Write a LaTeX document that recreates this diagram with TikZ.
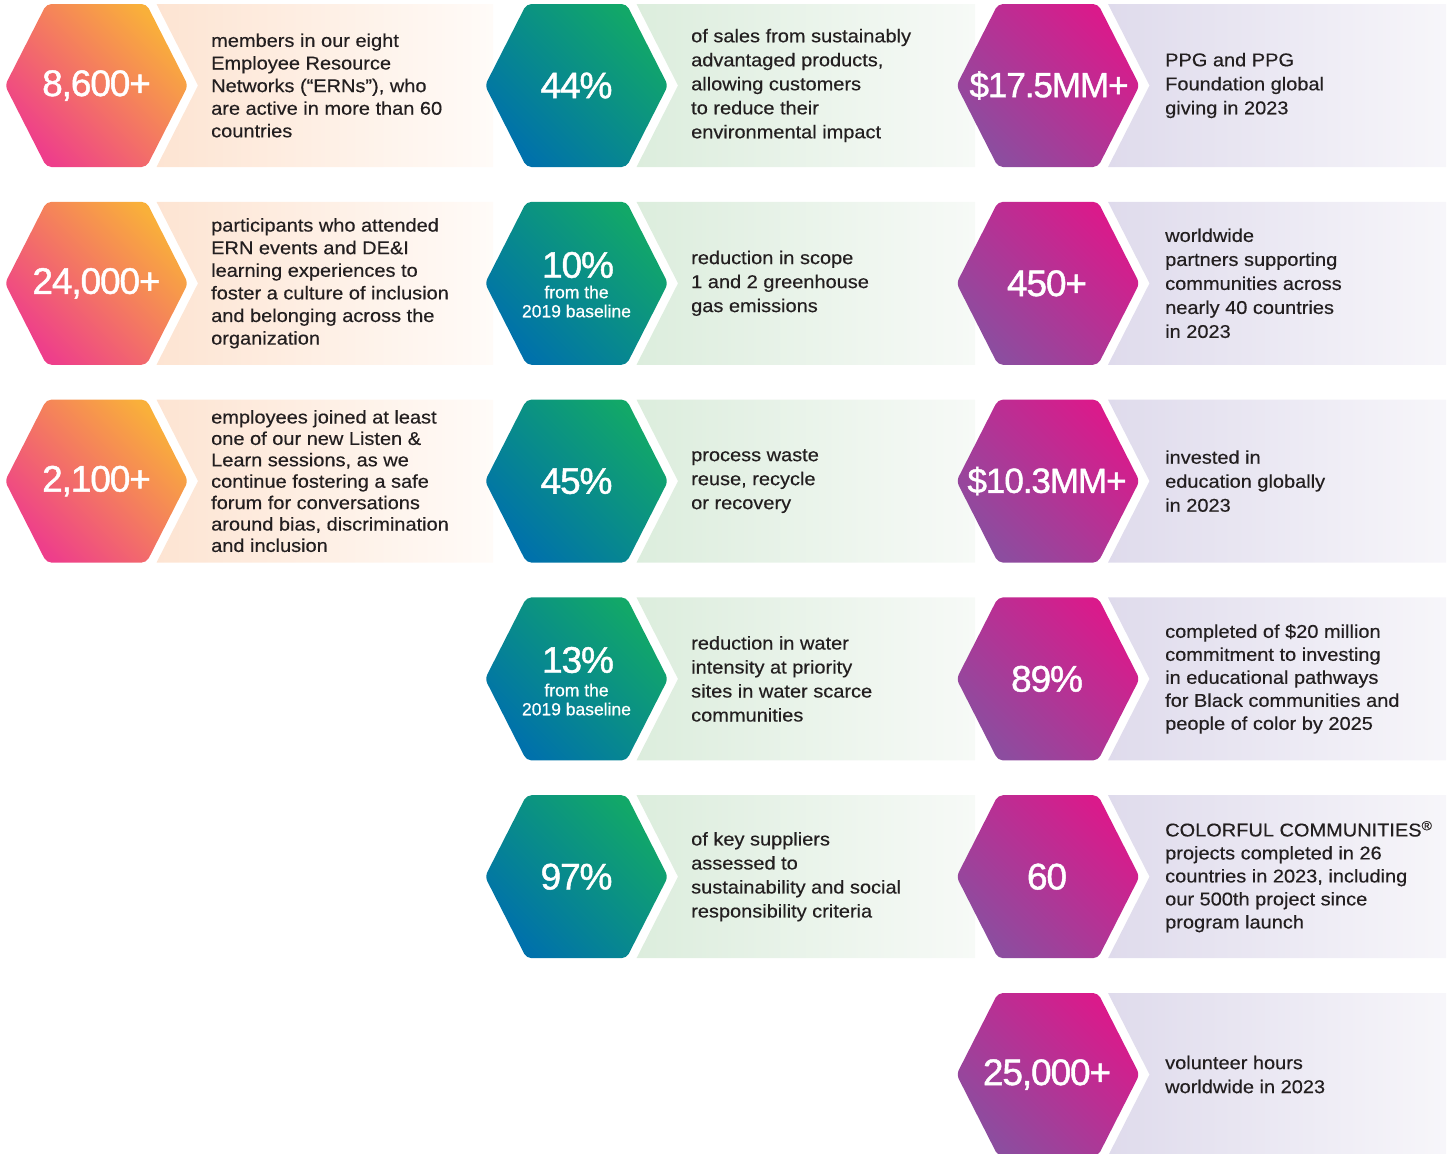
\documentclass[tikz,border=0pt]{standalone}
\usepackage{fontspec}
\setmainfont{Liberation Sans}[FakeStretch=1.08,FakeBold=0.4]
\newfontfamily\numf{Liberation Sans}[FakeBold=1.2,LetterSpace=-3]
\newfontfamily\subf{Liberation Sans}[FakeBold=0.6]
\definecolor{orT}{HTML}{F9B03A}
\definecolor{orB}{HTML}{EE3E8B}
\definecolor{grT}{HTML}{12A868}
\definecolor{grB}{HTML}{0071AB}
\definecolor{mgT}{HTML}{DA1A8B}
\definecolor{mgB}{HTML}{8C4D9F}
\definecolor{pL}{HTML}{FDE4D2}
\definecolor{pR}{HTML}{FFFBF8}
\definecolor{gL}{HTML}{DCEDDD}
\definecolor{gR}{HTML}{F7FAF7}
\definecolor{lL}{HTML}{DFDBEC}
\definecolor{lR}{HTML}{F7F6FA}
\definecolor{txt}{HTML}{231F20}
\tikzset{
  hexA/.style={top color=orT, bottom color=orB, shading angle=-45},
  hexB/.style={top color=grT, bottom color=grB, shading angle=-45},
  hexC/.style={top color=mgT, bottom color=mgB, shading angle=-45},
  panA/.style={left color=pL, right color=pR},
  panB/.style={left color=gL, right color=gR},
  panC/.style={left color=lL, right color=lR},
  bignum/.style={text=white, inner sep=0pt, font=\numf\fontsize{37}{40}\selectfont},
  subnum/.style={text=white, inner sep=0pt, font=\subf\fontsize{17.5}{19}\selectfont},
  desc/.style={text=txt, inner sep=0pt, anchor=west, align=left, font=\fontsize{18.5}{24}\selectfont},
  descA/.style={desc, font=\fontsize{18.5}{22.6}\selectfont},
}
\newcommand\hexpanel[5]{%
  \path[#5] ({#1+60},{#2-81.5}) -- (#3,{#2-81.5}) -- (#3,{#2+81.5}) -- ({#1+60},{#2+81.5}) -- ({#1+101.5},#2) -- cycle;
  \path[#4,rounded corners=5] (#1,{#2-81.5}) -- ({#1+50},{#2-81.5}) -- ({#1+91.5},#2) -- ({#1+50},{#2+81.5}) -- ({#1-50},{#2+81.5}) -- ({#1-91.5},#2) -- ({#1-50},{#2-81.5}) -- cycle;
}
\begin{document}
\begin{tikzpicture}[x=1pt,y=-1pt]
\useasboundingbox (0,0) rectangle (1449,1154);
\clip (0,0) rectangle (1449,1154);
% column 1
\hexpanel{96.5}{85.5}{493}{hexA}{panA}
\hexpanel{96.5}{283.3}{493}{hexA}{panA}
\hexpanel{96.5}{481.1}{493}{hexA}{panA}
% column 2
\hexpanel{576.5}{85.5}{975}{hexB}{panB}
\hexpanel{576.5}{283.3}{975}{hexB}{panB}
\hexpanel{576.5}{481.1}{975}{hexB}{panB}
\hexpanel{576.5}{678.9}{975}{hexB}{panB}
\hexpanel{576.5}{876.7}{975}{hexB}{panB}
% column 3
\hexpanel{1048}{85.5}{1446}{hexC}{panC}
\hexpanel{1048}{283.3}{1446}{hexC}{panC}
\hexpanel{1048}{481.1}{1446}{hexC}{panC}
\hexpanel{1048}{678.9}{1446}{hexC}{panC}
\hexpanel{1048}{876.7}{1446}{hexC}{panC}
\hexpanel{1048}{1074.5}{1446}{hexC}{panC}

% numbers column 1
\node[bignum] (n11) at (96.5,85.5) {8,600+};
\node[bignum] (n12) at (96.5,283.3) {24,000+};
\node[bignum] (n13) at (96.5,481.1) {2,100+};
% numbers column 2
\node[bignum] (n21) at (576.5,85.5) {44\%};
\node[bignum] (n22) at (578,265) {10\%};
\node[subnum] (s22a) at (576.5,292) {from the};
\node[subnum] (s22b) at (576.5,311) {2019 baseline};
\node[bignum] (n23) at (576.5,481.1) {45\%};
\node[bignum] (n24) at (578,660) {13\%};
\node[subnum] (s24a) at (576.5,690) {from the};
\node[subnum] (s24b) at (576.5,709) {2019 baseline};
\node[bignum] (n25) at (576.5,876.7) {97\%};
% numbers column 3
\node[bignum, font=\numf\fontsize{35}{38}\selectfont] (n31) at (1049,85.5) {\$17.5MM+};
\node[bignum] (n32) at (1047,283.3) {450+};
\node[bignum, font=\numf\fontsize{35}{38}\selectfont] (n33) at (1047,481.1) {\$10.3MM+};
\node[bignum] (n34) at (1047,678.9) {89\%};
\node[bignum] (n35) at (1047,876.7) {60};
\node[bignum] (n36) at (1047,1074.5) {25,000+};

% texts column 1
\node[descA] (t11) at (211,85.5) {members in our eight\\Employee Resource\\Networks (“ERNs”), who\\are active in more than 60\\countries};
\node[descA] (t12) at (211,283.3) {participants who attended\\ERN events and DE\&I\\learning experiences to\\foster a culture of inclusion\\and belonging across the\\organization};
\node[desc, font=\fontsize{18.5}{21.4}\selectfont] (t13) at (211,481.1) {employees joined at least\\one of our new Listen \&\\Learn sessions, as we\\continue fostering a safe\\forum for conversations\\around bias, discrimination\\and inclusion};
% texts column 2
\node[desc] (t21) at (691,85.5) {of sales from sustainably\\advantaged products,\\allowing customers\\to reduce their\\environmental impact};
\node[desc] (t22) at (691,283.3) {reduction in scope\\1 and 2 greenhouse\\gas emissions};
\node[desc] (t23) at (691,481.1) {process waste\\reuse, recycle\\or recovery};
\node[desc] (t24) at (691,678.9) {reduction in water\\intensity at priority\\sites in water scarce\\communities};
\node[desc] (t25) at (691,876.7) {of key suppliers\\assessed to\\sustainability and social\\responsibility criteria};
% texts column 3
\node[desc] (t31) at (1165,85.5) {PPG and PPG\\Foundation global\\giving in 2023};
\node[desc] (t32) at (1165,283.3) {worldwide\\partners supporting\\communities across\\nearly 40 countries\\in 2023};
\node[desc] (t33) at (1165,481.1) {invested in\\education globally\\in 2023};
\node[desc, font=\fontsize{18.5}{23}\selectfont] (t34) at (1165,678.9) {completed of \$20 million\\commitment to investing\\in educational pathways\\for Black communities and\\people of color by 2025};
\node[desc, font=\fontsize{18.5}{23}\selectfont] (t35) at (1165,876.7) {COLORFUL COMMUNITIES\textsuperscript{®}\\projects completed in 26\\countries in 2023, including\\our 500th project since\\program launch};
\node[desc] (t36) at (1165,1074.5) {volunteer hours\\worldwide in 2023};
\end{tikzpicture}
\end{document}
